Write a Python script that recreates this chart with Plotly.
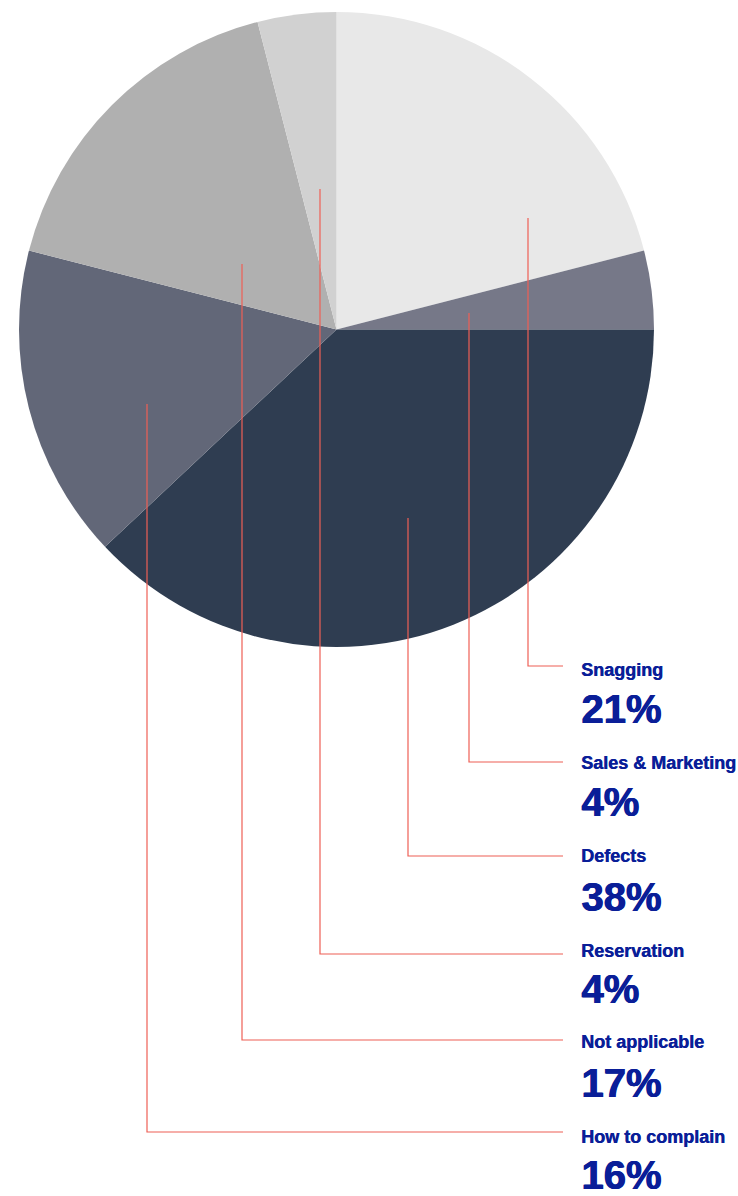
import plotly.graph_objects as go

# ---- data ----
categories = ["Snagging", "Sales & Marketing", "Defects", "How to complain", "Not applicable", "Reservation"]
values = [21, 4, 38, 16, 17, 4]

# ---- style ----
slice_colors = ["#e8e8e8", "#767888", "#2f3d51", "#626778", "#b0b0b0", "#d1d1d1"]
W, H = 738, 1196
text_color = "#0a1e98"
line_color = "#ee5f55"

# label order (top to bottom) and leader geometry (pixels)
label_order = ["Snagging", "Sales & Marketing", "Defects", "Reservation", "Not applicable", "How to complain"]
anchor_px = {  # start point of leader inside slice
    "Snagging": (528, 218),
    "Sales & Marketing": (469, 313),
    "Defects": (408, 518),
    "Reservation": (320, 189),
    "Not applicable": (242, 264),
    "How to complain": (147, 404),
}
elbow_y = [666, 762, 856, 954, 1040, 1132]
line_end_x = 563
name_cy = [669.8, 762.8, 855.8, 950.5, 1041.8, 1136.8]
pct_cy = [708.8, 802.1, 897.1, 989.4, 1083.4, 1175.0]
text_x = 579


def px(x):
    return x / W


def py(y):
    return 1 - y / H


fig = go.Figure(go.Pie(
    labels=categories,
    values=values,
    sort=False,
    direction="clockwise",
    rotation=0,
    marker=dict(colors=slice_colors, line=dict(width=0)),
    textinfo="none",
    hoverinfo="none",
    domain=dict(x=[px(19), px(654)], y=[py(647), py(12)]),
))

shapes = []
annotations = []
val_map = dict(zip(categories, values))
for i, name in enumerate(label_order):
    ax, ay = anchor_px[name]
    ey = elbow_y[i]
    shapes.append(dict(
        type="path", xref="paper", yref="paper",
        path=f"M {px(ax)} {py(ay)} L {px(ax)} {py(ey)} L {px(line_end_x)} {py(ey)}",
        line=dict(color=line_color, width=1.2),
    ))
    annotations.append(dict(
        x=px(text_x), y=py(name_cy[i]), xref="paper", yref="paper",
        xanchor="left", yanchor="middle", showarrow=False,
        text=f"<b>{name}</b>",
        font=dict(family="Liberation Sans, Arial, sans-serif", size=18, color=text_color,
                  shadow=f"0.4px 0 0 {text_color}"),
    ))
    annotations.append(dict(
        x=px(text_x), y=py(pct_cy[i]), xref="paper", yref="paper",
        xanchor="left", yanchor="middle", showarrow=False,
        text=f"<b>{val_map[name]}%</b>",
        font=dict(family="Liberation Sans, Arial, sans-serif", size=40, color=text_color,
                  shadow=f"1px 0 0 {text_color}, 0.5px 0 0 {text_color}"),
    ))

fig.update_layout(
    width=W, height=H,
    margin=dict(l=0, r=0, t=0, b=0),
    paper_bgcolor="white",
    plot_bgcolor="white",
    showlegend=False,
    shapes=shapes,
    annotations=annotations,
    hovermode=False,
)

fig.write_html("out.html", config={"displayModeBar": False})
